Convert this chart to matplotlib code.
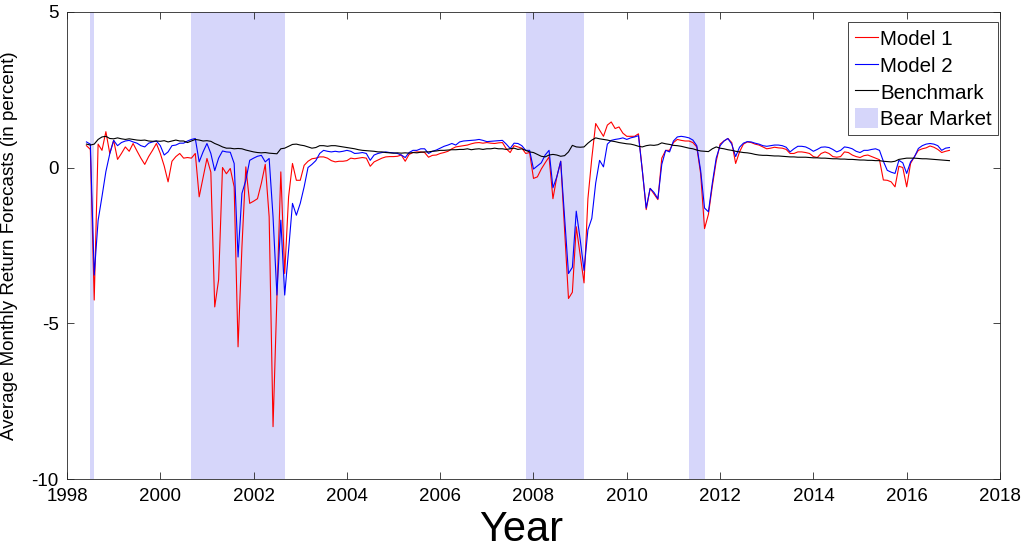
import numpy as np
import matplotlib
matplotlib.use("Agg")
import matplotlib.pyplot as plt
from matplotlib.patches import Patch
from matplotlib.lines import Line2D

plt.rcParams['font.family'] = ['Liberation Sans', 'DejaVu Sans']
plt.rcParams['axes.unicode_minus'] = False

# monthly forecasts, Jun 1998 .. Dec 2016
start_year = 1998
start_month = 6

model1 = [
    0.7, 0.58, -4.25, 0.75, 0.55, 1.15, 0.45, 0.87, 0.26, 0.45,
    0.66, 0.52, 0.77, 0.53, 0.3, 0.1, 0.35, 0.55, 0.77, 0.45,
    0.05, -0.46, 0.2, 0.35, 0.45, 0.3, 0.32, 0.3, 0.45, -0.94,
    -0.33, 0.29, -0.15, -4.47, -3.6, 0.0, -0.2, -0.03, -0.62, -5.75,
    -2.54, 0.02, -1.15, -1.08, -1.0, -0.5, 0.1, -1.58, -8.31, -4.15,
    -0.14, -3.4, -0.94, 0.13, -0.41, -0.41, 0.07, 0.2, 0.28, 0.3,
    0.34, 0.34, 0.3, 0.22, 0.18, 0.2, 0.2, 0.22, 0.3, 0.28,
    0.3, 0.32, 0.3, 0.04, 0.18, 0.24, 0.3, 0.34, 0.35, 0.35,
    0.36, 0.4, 0.2, 0.42, 0.48, 0.5, 0.5, 0.48, 0.33, 0.39,
    0.4, 0.45, 0.48, 0.52, 0.6, 0.66, 0.68, 0.7, 0.72, 0.76,
    0.79, 0.8, 0.78, 0.8, 0.78, 0.77, 0.79, 0.8, 0.6, 0.48,
    0.7, 0.66, 0.62, 0.45, 0.48, -0.35, -0.3, -0.05, 0.15, 0.34,
    -1.0, -0.3, 0.2, -2.0, -4.2, -4.0, -1.9, -2.8, -3.7, -1.0,
    0.3, 1.41, 1.2, 1.0, 1.36, 1.46, 1.25, 1.3, 1.1, 1.0,
    1.0, 1.0, 1.08, -0.1, -1.35, -0.67, -0.85, -1.03, 0.3, 0.55,
    0.55, 0.8, 0.9, 0.87, 0.85, 0.85, 0.8, 0.66, -0.2, -1.96,
    -1.5, -0.6, 0.2, 0.75, 0.85, 0.93, 0.8, 0.13, 0.5, 0.75,
    0.82, 0.8, 0.75, 0.72, 0.66, 0.6, 0.62, 0.65, 0.63, 0.62,
    0.58, 0.45, 0.45, 0.5, 0.5, 0.48, 0.45, 0.35, 0.32, 0.45,
    0.5, 0.45, 0.35, 0.33, 0.35, 0.5, 0.48, 0.4, 0.35, 0.32,
    0.38, 0.4, 0.35, 0.3, 0.25, -0.4, -0.41, -0.46, -0.62, 0.04,
    0.0, -0.62, 0.13, 0.35, 0.55, 0.6, 0.63, 0.69, 0.65, 0.58,
    0.48, 0.52, 0.55,
]

model2 = [
    0.82, 0.75, -3.45, -1.7, -0.93, -0.13, 0.44, 0.87, 0.7, 0.8,
    0.85, 0.87, 0.82, 0.78, 0.7, 0.66, 0.78, 0.82, 0.85, 0.7,
    0.4, 0.5, 0.7, 0.72, 0.78, 0.78, 0.85, 0.9, 0.93, 0.18,
    0.5, 0.77, 0.45, -0.1, 0.3, 0.53, 0.5, 0.49, 0.13, -2.87,
    -0.83, -0.41, 0.23, 0.3, 0.36, 0.39, 0.18, 0.29, -1.58, -4.09,
    -1.69, -4.09, -2.65, -1.15, -1.53, -1.15, -0.62, 0.0, 0.1, 0.22,
    0.45, 0.55, 0.52, 0.5, 0.52, 0.5, 0.52, 0.55, 0.52, 0.45,
    0.46, 0.48, 0.45, 0.23, 0.4, 0.45, 0.48, 0.5, 0.48, 0.47,
    0.45, 0.4, 0.32, 0.48, 0.55, 0.55, 0.6, 0.6, 0.45, 0.52,
    0.56, 0.62, 0.68, 0.72, 0.77, 0.72, 0.82, 0.85, 0.86, 0.87,
    0.88, 0.9, 0.87, 0.83, 0.84, 0.85, 0.86, 0.87, 0.75, 0.61,
    0.78, 0.77, 0.7, 0.55, 0.55, -0.05, 0.05, 0.15, 0.4, 0.55,
    -0.65, -0.3, 0.2, -1.6, -3.4, -3.2, -1.4, -2.3, -3.3, -2.0,
    -1.63, -0.5, 0.23, 0.02, 0.75, 0.87, 0.9, 0.92, 0.95, 0.9,
    0.95, 0.98, 1.02, -0.1, -1.3, -0.67, -0.8, -1.0, 0.1, 0.55,
    0.5, 0.85, 0.98, 1.0, 0.98, 0.95, 0.88, 0.7, -0.1, -1.3,
    -1.42, -0.5, 0.3, 0.7, 0.85, 0.93, 0.75, 0.35, 0.65, 0.78,
    0.83, 0.82, 0.78, 0.75, 0.7, 0.68, 0.7, 0.72, 0.72, 0.7,
    0.65, 0.5, 0.6, 0.68, 0.68, 0.66, 0.6, 0.52, 0.58, 0.65,
    0.66, 0.64, 0.58, 0.5, 0.55, 0.66, 0.64, 0.6, 0.52, 0.48,
    0.55, 0.55, 0.58, 0.6, 0.55, 0.2, -0.09, -0.15, -0.19, 0.23,
    0.15, -0.19, 0.18, 0.34, 0.61, 0.7, 0.75, 0.77, 0.75, 0.7,
    0.55, 0.62, 0.64,
]

benchmark = [
    0.75, 0.72, 0.75, 0.9, 0.98, 1.0, 0.93, 0.92, 0.95, 0.92,
    0.9, 0.92, 0.9, 0.88, 0.87, 0.88, 0.85, 0.84, 0.85, 0.84,
    0.86, 0.82, 0.85, 0.88, 0.85, 0.85, 0.8, 0.85, 0.9, 0.88,
    0.85, 0.86, 0.84, 0.77, 0.72, 0.66, 0.62, 0.62, 0.6, 0.61,
    0.6, 0.56, 0.53, 0.5, 0.48, 0.47, 0.48, 0.46, 0.45, 0.44,
    0.6, 0.62, 0.68, 0.74, 0.75, 0.72, 0.7, 0.66, 0.62, 0.64,
    0.7, 0.7, 0.68, 0.7, 0.7, 0.68, 0.66, 0.64, 0.62, 0.6,
    0.57, 0.55, 0.54, 0.53, 0.52, 0.5, 0.5, 0.48, 0.47, 0.46,
    0.47, 0.46, 0.47, 0.46, 0.48, 0.47, 0.49, 0.5, 0.5, 0.52,
    0.53, 0.55, 0.55, 0.56, 0.57, 0.57, 0.58, 0.58, 0.6, 0.57,
    0.59, 0.6, 0.58, 0.6, 0.6, 0.62, 0.6, 0.6, 0.58, 0.6,
    0.62, 0.58, 0.6, 0.55, 0.5, 0.48, 0.42, 0.36, 0.34, 0.4,
    0.42, 0.4, 0.36, 0.38, 0.5, 0.71, 0.66, 0.65, 0.66, 0.78,
    0.88, 0.95, 0.92, 0.9, 0.88, 0.85, 0.83, 0.8, 0.78, 0.76,
    0.75, 0.72, 0.68, 0.66, 0.7, 0.72, 0.71, 0.73, 0.79, 0.76,
    0.74, 0.71, 0.7, 0.68, 0.65, 0.62, 0.6, 0.56, 0.53, 0.52,
    0.51, 0.6, 0.66, 0.62, 0.6, 0.57, 0.55, 0.52, 0.5, 0.48,
    0.47, 0.45, 0.42, 0.4, 0.39, 0.39, 0.38, 0.37, 0.37, 0.36,
    0.35, 0.34, 0.34, 0.33, 0.33, 0.33, 0.32, 0.31, 0.31, 0.3,
    0.3, 0.29, 0.28, 0.28, 0.27, 0.27, 0.26, 0.26, 0.25, 0.24,
    0.24, 0.23, 0.23, 0.22, 0.22, 0.2, 0.19, 0.18, 0.2, 0.26,
    0.28, 0.3, 0.3, 0.3, 0.29, 0.28, 0.28, 0.27, 0.26, 0.25,
    0.24, 0.23, 0.22,
]

# bear market periods (start, end) in decimal years
bear_start = [1998.50, 2000.667, 2007.833, 2011.333]
bear_end = [1998.583, 2002.667, 2009.083, 2011.667]

assert len(model1) == len(model2) == len(benchmark)
t = start_year + (start_month - 1) / 12 + np.arange(len(model1)) / 12

fig = plt.figure(figsize=(10.23, 5.51), dpi=100)
ax = fig.add_axes([0.0655, 0.130, 0.912, 0.849])

shade = '#D6D6FA'
for s, e in zip(bear_start, bear_end):
    ax.axvspan(s, e, color=shade, lw=0, zorder=0)

ax.plot(t, model1, color='#FF0000', lw=0.8, zorder=2)
ax.plot(t, model2, color='#0000FF', lw=0.8, zorder=3)
ax.plot(t, benchmark, color='#000000', lw=0.8, zorder=4)

axc = '#262626'
ax.set_xlim(1998, 2018)
ax.set_ylim(-10, 5)
ax.set_xticks(np.arange(1998, 2019, 2))
ax.set_yticks([-10, -5, 0, 5])
ax.tick_params(direction='in', top=True, right=True, length=5, width=0.6,
               labelsize=13.5, colors=axc, labelcolor='black', pad=6)
for sp in ax.spines.values():
    sp.set_color(axc)
    sp.set_linewidth(0.6)

ax.set_xlabel('Year', fontsize=30)
ax.xaxis.set_label_coords(0.487, -0.132, transform=ax.transAxes)
ax.xaxis.label.set_va('baseline')
ax.set_ylabel('Average Monthly Return Forecasts (in percent)', fontsize=13.5)
ax.yaxis.set_label_coords(-0.052, 0.5)

handles = [Line2D([], [], color='#FF0000', lw=0.8),
           Line2D([], [], color='#0000FF', lw=0.8),
           Line2D([], [], color='#000000', lw=0.8),
           Patch(facecolor=shade, edgecolor='none')]
leg = ax.legend(handles, ['Model 1', 'Model 2', 'Benchmark', 'Bear Market'],
                loc='upper right', bbox_to_anchor=(0.998, 0.977), fontsize=14.8,
                fancybox=False, framealpha=1, edgecolor=axc, borderpad=0.3,
                handlelength=1.15, handleheight=1.1, handletextpad=0.1,
                labelspacing=0.28, borderaxespad=0)
leg.get_frame().set_linewidth(0.6)

fig.savefig('out.png', dpi=100)
